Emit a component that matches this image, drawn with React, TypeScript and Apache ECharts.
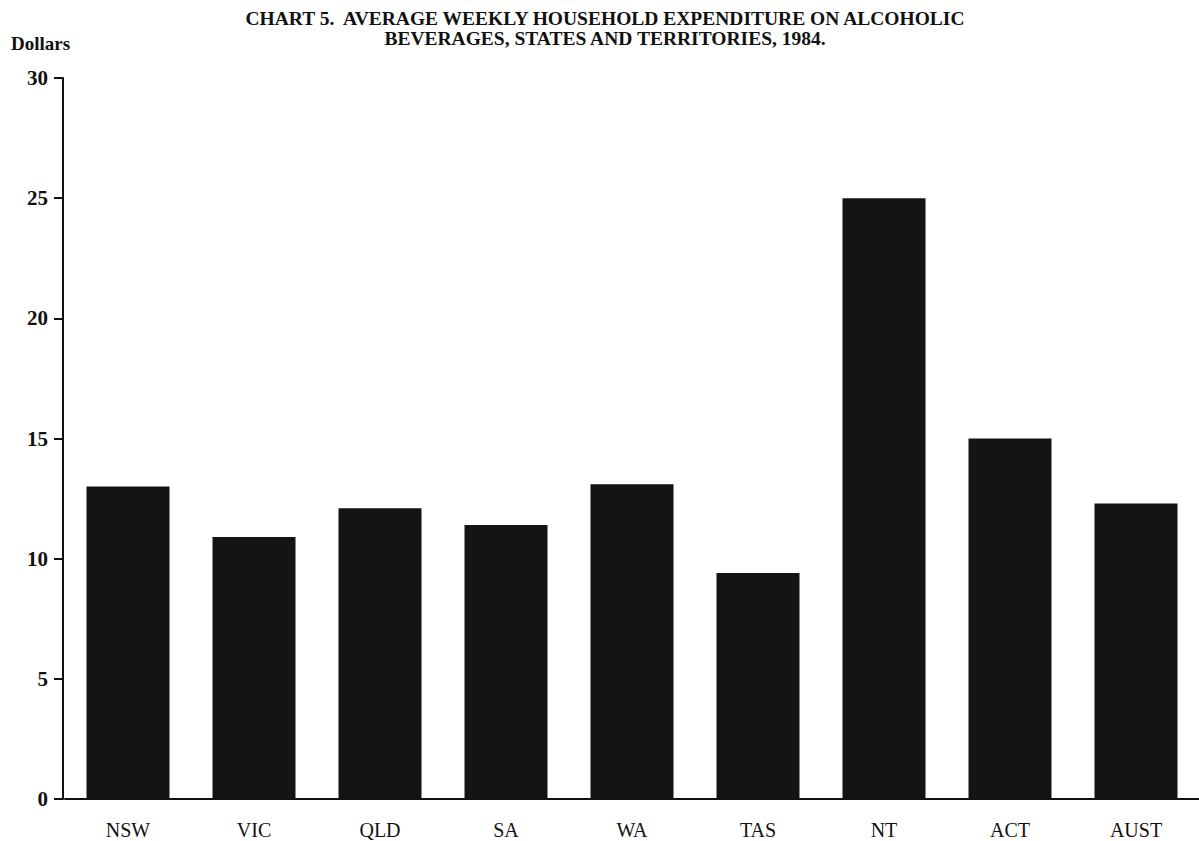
import React, { useEffect, useRef } from "react";
import * as echarts from "echarts";

const categories = ["NSW", "VIC", "QLD", "SA", "WA", "TAS", "NT", "ACT", "AUST"];
const expenditure = [13.0, 10.9, 12.1, 11.4, 13.1, 9.4, 25.0, 15.0, 12.3];
const yTicks = { min: 0, max: 30, interval: 5 };
const titleLines = [
  "CHART 5.  AVERAGE WEEKLY HOUSEHOLD EXPENDITURE ON ALCOHOLIC",
  "BEVERAGES, STATES AND TERRITORIES, 1984.",
];
const yAxisName = "Dollars";

const FONT = "'Liberation Serif', 'Times New Roman', serif";

export default function App() {
  const ref = useRef<HTMLDivElement>(null);
  useEffect(() => {
    if (!ref.current) return;
    const chart = echarts.init(ref.current, null, { renderer: "svg" });
    chart.setOption({
      animation: false,
      backgroundColor: "#ffffff",
      title: {
        text: titleLines.join("\n"),
        left: 600,
        top: 4,
        textAlign: "center",
        textStyle: {
          fontFamily: FONT,
          fontWeight: "bold",
          fontSize: 19.5,
          lineHeight: 19.5,
          color: "#111",
        },
      },
      graphic: [
        {
          type: "text",
          left: 11,
          top: 34,
          style: {
            text: yAxisName,
            fontFamily: FONT,
            fontWeight: "bold",
            fontSize: 19,
            fill: "#111",
          },
        },
      ],
      grid: { left: 65, top: 78, width: 1138, height: 721 },
      xAxis: {
        type: "category",
        data: categories,
        boundaryGap: true,
        axisLine: { show: true, lineStyle: { color: "#111", width: 2 } },
        axisTick: { show: false },
        axisLabel: {
          margin: 21,
          fontFamily: FONT,
          fontSize: 20,
          color: "#111",
        },
      },
      yAxis: {
        type: "value",
        min: yTicks.min,
        max: yTicks.max,
        interval: yTicks.interval,
        offset: 2,
        splitLine: { show: false },
        axisLine: { show: true, lineStyle: { color: "#111", width: 2 } },
        axisTick: { show: true, length: 9, lineStyle: { color: "#111", width: 2 } },
        axisLabel: {
          margin: 15,
          fontFamily: FONT,
          fontWeight: "bold",
          fontSize: 21,
          color: "#111",
        },
      },
      series: [
        {
          type: "bar",
          data: expenditure,
          barWidth: 83,
          itemStyle: { color: "#141414" },
        },
      ],
    });
    return () => chart.dispose();
  }, []);
  return (
    <div
      ref={ref}
      style={{ position: "absolute", left: 0, top: 0, width: 1199, height: 841, background: "#fff" }}
    />
  );
}
